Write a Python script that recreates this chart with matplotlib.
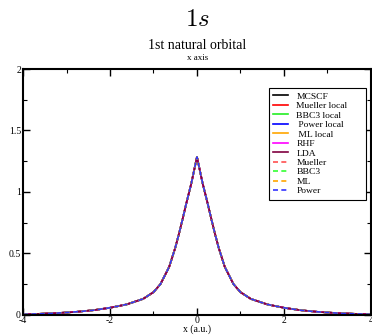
import matplotlib
matplotlib.use('Agg')
import matplotlib.pyplot as plt
from matplotlib.ticker import MultipleLocator

plt.rcParams['font.family'] = ['Liberation Serif', 'DejaVu Serif']
plt.rcParams['mathtext.fontset'] = 'cm'

# values (curve is symmetric about x = 0)
x_half = [0.0, 0.13, 0.25, 0.33, 0.41, 0.5, 0.64, 0.84, 1.0, 1.24,
          1.62, 2.0, 2.39, 2.77, 3.2, 3.6, 4.0]
y_half = [1.285, 1.07, 0.90, 0.78, 0.665, 0.545, 0.39, 0.25, 0.185, 0.13,
          0.085, 0.058, 0.038, 0.025, 0.015, 0.009, 0.005]
x_vals = [-v for v in x_half[::-1]] + x_half[1:]
y_vals = y_half[::-1] + y_half[1:]

labels = ['MCSCF', 'Mueller local      ', 'BBC3 local', ' Power local', ' ML local',
          'RHF', 'LDA', 'Mueller', 'BBC3', 'ML', 'Power']
colors = ['black', 'red', '#22ee22', 'blue', 'orange',
          'magenta', '#800040', '#ff5050', '#33ff33', 'orange', '#3333ff']
styles = ['-', '-', '-', '-', '-', '-', '-', '--', '--', '--', '--']

fig = plt.figure(figsize=(3.72, 3.35), dpi=100)
ax = fig.add_axes([0.062, 0.06, 0.935, 0.734])

for lab, col, ls in zip(labels, colors, styles):
    if ls == '--':
        ax.plot(x_vals, y_vals, color=col, lw=1.2, label=lab, dashes=(3, 2))
    else:
        ax.plot(x_vals, y_vals, color=col, lw=1.2, label=lab)

ax.set_xlim(-4, 4)
ax.set_ylim(0, 2)
ax.xaxis.set_major_locator(MultipleLocator(2))
ax.xaxis.set_minor_locator(MultipleLocator(1))
ax.yaxis.set_major_locator(MultipleLocator(0.5))
ax.yaxis.set_minor_locator(MultipleLocator(0.25))
ax.tick_params(which='both', direction='in', top=True, right=True, labelsize=7, pad=1.5)
ax.tick_params(axis='x', pad=1)
ax.tick_params(which='major', length=5, width=1)
ax.tick_params(which='minor', length=3, width=0.8)
for s in ax.spines.values():
    s.set_linewidth(1.5)
ax.xaxis.set_major_formatter(plt.FuncFormatter(lambda v, p: '%g' % v))
ax.yaxis.set_major_formatter(plt.FuncFormatter(lambda v, p: '%g' % v))
ax.set_xlabel('x (a.u.)', fontsize=7, labelpad=-0.5)

fig.text(0.53, 0.94, r'$1s$', ha='center', va='center', fontsize=18)
fig.text(0.53, 0.864, '1st natural orbital', ha='center', va='center', fontsize=10)
fig.text(0.53, 0.826, 'x axis', ha='center', va='center', fontsize=6.5)

leg = ax.legend(loc='upper right', bbox_to_anchor=(0.986, 0.923), fontsize=6.8,
                frameon=True, fancybox=False, edgecolor='black', framealpha=1,
                handlelength=1.6, handletextpad=0.9, labelspacing=0.09,
                borderpad=0.45, borderaxespad=0)
leg.get_frame().set_linewidth(0.8)

fig.savefig('out.png', dpi=100)
